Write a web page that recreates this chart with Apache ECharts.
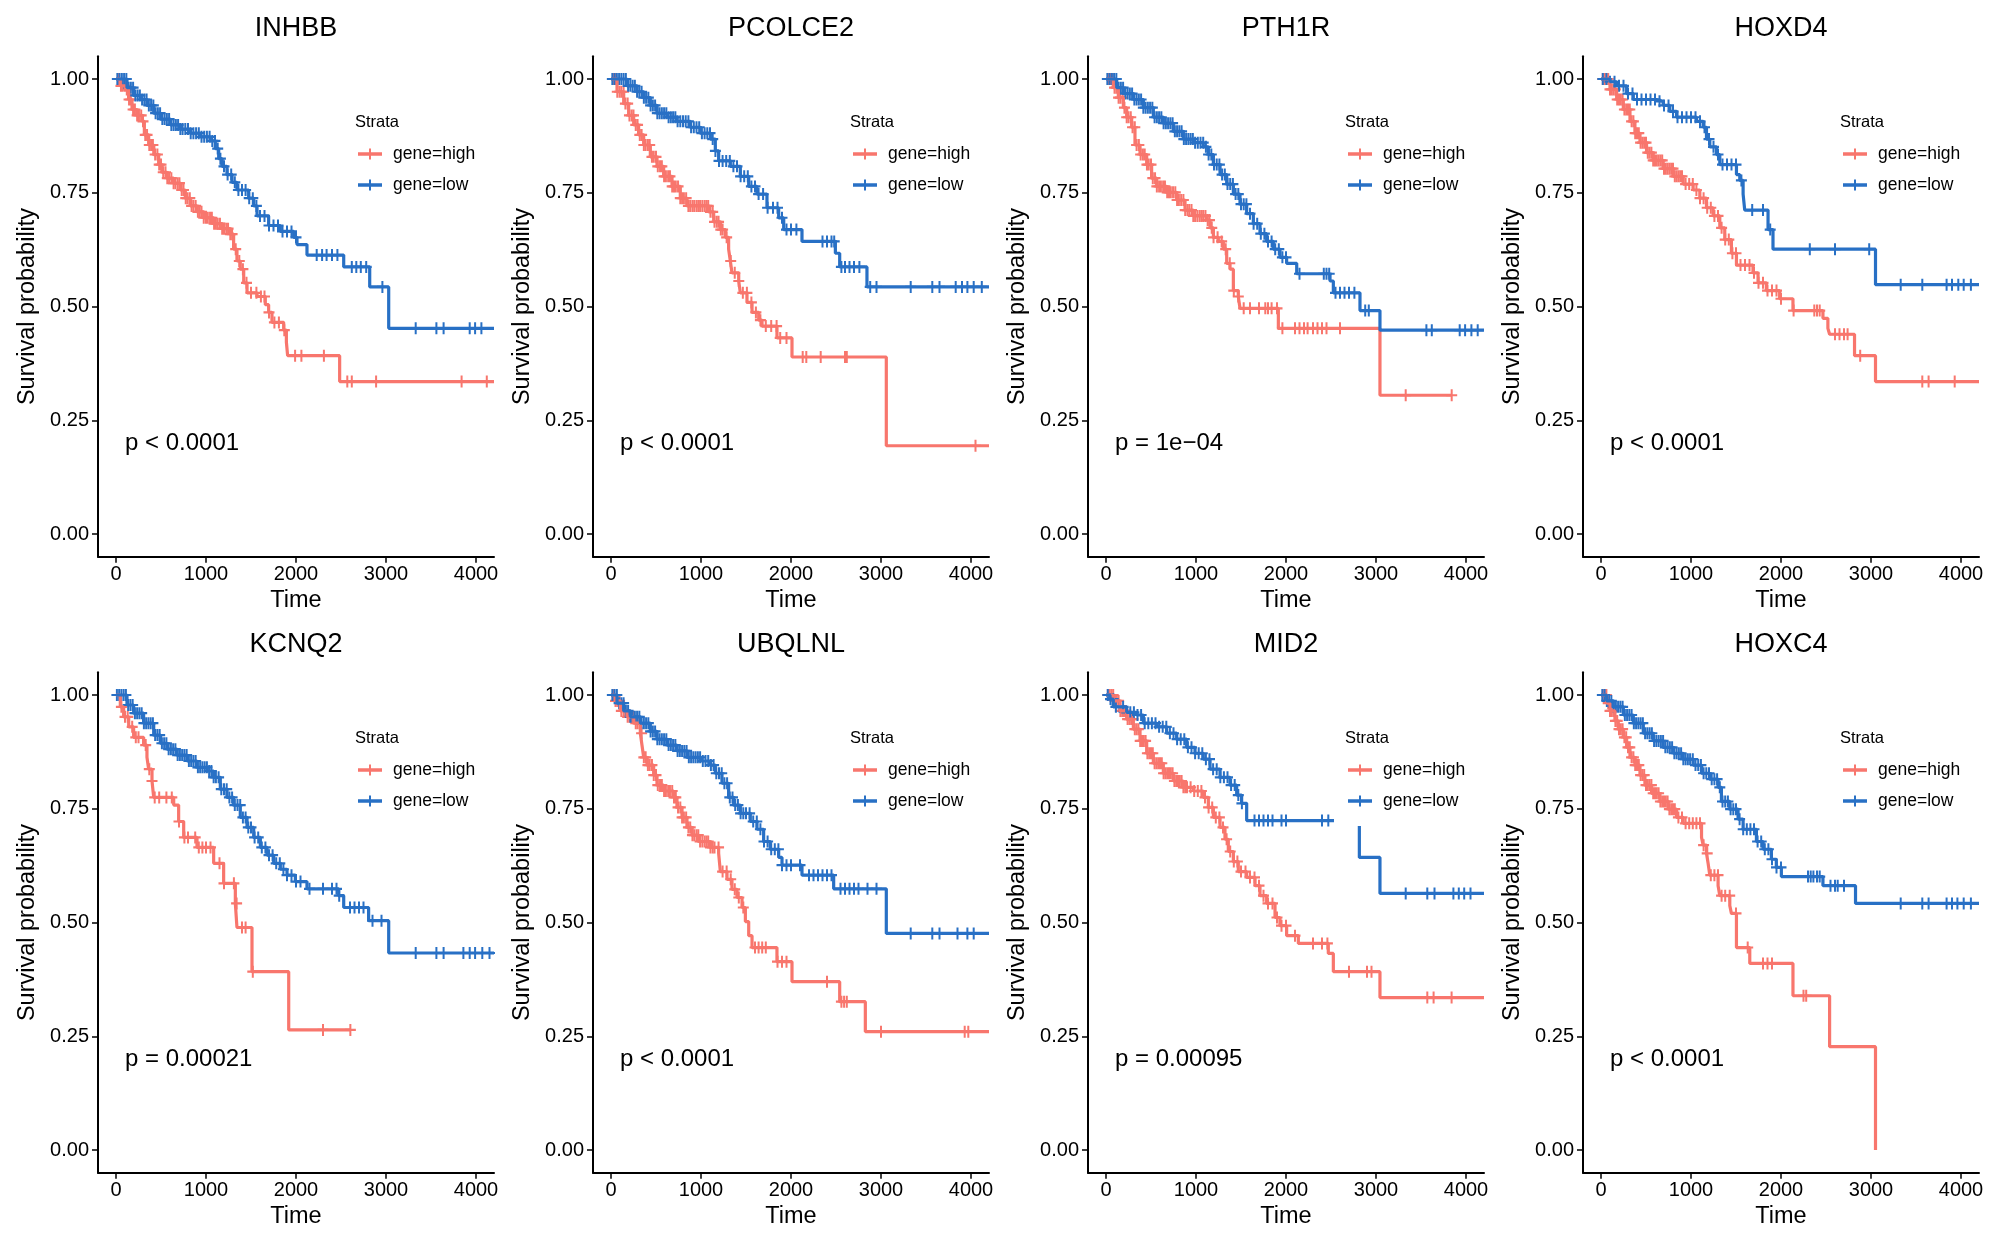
<!DOCTYPE html>
<html>
<head>
<meta charset="utf-8">
<script src="https://cdn.jsdelivr.net/npm/echarts@6/dist/echarts.min.js"></script>
<style>
html,body{margin:0;padding:0;background:#ffffff;}
#chart{width:2000px;height:1250px;}
</style>
</head>
<body>
<div id="chart"></div>
<script>
// ---------- tick labels ----------
const xTicks = [0, 1000, 2000, 3000, 4000];
const yTicks = [0, 0.25, 0.5, 0.75, 1.0];
const genes = ['INHBB', 'PCOLCE2', 'PTH1R', 'HOXD4', 'KCNQ2', 'UBQLNL', 'MID2', 'HOXC4'];
const pValues = ['p < 0.0001', 'p < 0.0001', 'p = 1e\u221204', 'p < 0.0001', 'p = 0.00021', 'p < 0.0001', 'p = 0.00095', 'p < 0.0001'];
const strata = ['gene=high', 'gene=low'];

// ---------- Kaplan-Meier step points [time, survival] ----------
const inhbbHigh = [[0,1],[48,0.985],[104,0.977],[140,0.955],[178,0.933],[233,0.92],[290,0.907],[315,0.877],[363,0.855],[420,0.834],[474,0.812],[511,0.795],[567,0.782],[640,0.771],[715,0.756],[770,0.738],[826,0.721],[900,0.708],[974,0.695],[1085,0.682],[1178,0.671],[1270,0.659],[1307,0.626],[1344,0.60],[1381,0.582],[1419,0.552],[1456,0.53],[1567,0.522],[1659,0.504],[1696,0.487],[1733,0.465],[1863,0.448],[1893,0.422],[1907,0.392],[2485,0.335],[4200,0.335]];
const inhbbLow = [[0,1],[122,0.981],[196,0.964],[270,0.955],[344,0.942],[419,0.925],[493,0.912],[604,0.899],[715,0.89],[826,0.881],[937,0.873],[1048,0.864],[1104,0.847],[1141,0.825],[1178,0.808],[1233,0.79],[1289,0.773],[1344,0.756],[1474,0.738],[1530,0.721],[1567,0.699],[1696,0.678],[1826,0.665],[1974,0.652],[2011,0.636],[2122,0.613],[2530,0.587],[2819,0.543],[3030,0.452],[4200,0.452]];
const pcolHigh = [[0,1],[67,0.972],[141,0.946],[196,0.92],[252,0.899],[307,0.877],[363,0.855],[437,0.829],[511,0.808],[585,0.786],[678,0.764],[770,0.738],[844,0.721],[1085,0.708],[1141,0.686],[1215,0.669],[1270,0.652],[1307,0.626],[1326,0.6],[1344,0.574],[1419,0.556],[1437,0.53],[1511,0.509],[1567,0.487],[1641,0.47],[1678,0.457],[1844,0.431],[2011,0.389],[3059,0.194],[4200,0.194]];
const pcolLow = [[0,1],[178,0.985],[289,0.972],[363,0.959],[437,0.942],[511,0.925],[622,0.916],[733,0.907],[881,0.894],[993,0.881],[1104,0.868],[1159,0.842],[1196,0.82],[1326,0.808],[1437,0.786],[1530,0.764],[1622,0.747],[1733,0.717],[1863,0.695],[1919,0.669],[2122,0.643],[2493,0.617],[2541,0.587],[2844,0.543],[4200,0.543]];
const pthHigh = [[0,1],[81,0.981],[137,0.959],[193,0.937],[230,0.916],[285,0.894],[322,0.855],[378,0.834],[452,0.812],[507,0.782],[563,0.764],[674,0.751],[785,0.734],[878,0.712],[970,0.699],[1119,0.69],[1156,0.673],[1193,0.652],[1248,0.643],[1304,0.626],[1341,0.595],[1378,0.582],[1415,0.535],[1470,0.522],[1489,0.496],[1915,0.452],[3044,0.305],[3841,0.305]];
const pthLow = [[0,1],[119,0.981],[193,0.968],[304,0.955],[415,0.937],[526,0.916],[637,0.903],[748,0.885],[859,0.868],[970,0.86],[1081,0.851],[1137,0.834],[1193,0.812],[1267,0.79],[1341,0.769],[1415,0.747],[1489,0.725],[1563,0.704],[1637,0.682],[1711,0.66],[1785,0.643],[1859,0.626],[1933,0.608],[2007,0.595],[2119,0.572],[2489,0.556],[2526,0.53],[2822,0.491],[3044,0.448],[4200,0.448]];
const hoxdHigh = [[0,1],[100,0.977],[174,0.955],[248,0.933],[322,0.907],[377,0.881],[433,0.86],[506,0.838],[580,0.821],[691,0.803],[802,0.786],[913,0.769],[1024,0.756],[1098,0.738],[1172,0.717],[1246,0.699],[1320,0.673],[1375,0.647],[1449,0.617],[1505,0.591],[1689,0.574],[1745,0.552],[1837,0.535],[1985,0.517],[2133,0.491],[2466,0.474],[2521,0.452],[2540,0.439],[2817,0.392],[3050,0.335],[4200,0.335]];
const hoxdLow = [[0,1],[100,0.994],[174,0.985],[285,0.968],[359,0.955],[617,0.951],[691,0.942],[765,0.929],[839,0.916],[1061,0.907],[1135,0.894],[1172,0.868],[1209,0.851],[1283,0.834],[1320,0.812],[1505,0.79],[1542,0.777],[1579,0.747],[1597,0.712],[1856,0.669],[1911,0.626],[3050,0.548],[4200,0.548]];
const kcnHigh = [[0,1],[48,0.974],[85,0.952],[141,0.93],[196,0.907],[307,0.89],[344,0.863],[363,0.837],[400,0.811],[419,0.775],[641,0.758],[696,0.722],[752,0.687],[900,0.665],[1085,0.63],[1196,0.586],[1326,0.542],[1344,0.489],[1511,0.392],[1919,0.264],[2604,0.264]];
const kcnLow = [[0,1],[122,0.978],[196,0.96],[307,0.938],[419,0.912],[493,0.894],[567,0.881],[678,0.868],[789,0.855],[900,0.841],[1011,0.833],[1085,0.819],[1159,0.793],[1233,0.775],[1307,0.758],[1381,0.731],[1456,0.709],[1530,0.687],[1604,0.665],[1678,0.648],[1752,0.63],[1826,0.617],[1900,0.604],[1993,0.59],[2122,0.574],[2474,0.559],[2530,0.533],[2807,0.504],[3030,0.433],[4200,0.433]];
const ubqHigh = [[0,1],[48,0.987],[104,0.965],[178,0.952],[252,0.938],[326,0.916],[344,0.89],[363,0.863],[400,0.846],[474,0.824],[511,0.802],[585,0.789],[696,0.775],[733,0.753],[789,0.731],[844,0.709],[900,0.692],[974,0.678],[1104,0.665],[1196,0.652],[1215,0.612],[1289,0.595],[1344,0.573],[1400,0.555],[1456,0.533],[1493,0.502],[1530,0.471],[1567,0.445],[1844,0.414],[2011,0.37],[2541,0.326],[2826,0.26],[4200,0.26]];
const ubqLow = [[0,1],[67,0.982],[141,0.965],[215,0.952],[326,0.938],[437,0.92],[511,0.903],[622,0.89],[733,0.877],[844,0.863],[993,0.855],[1104,0.846],[1159,0.828],[1233,0.806],[1307,0.775],[1363,0.758],[1437,0.74],[1548,0.722],[1622,0.705],[1696,0.678],[1770,0.661],[1863,0.643],[1900,0.626],[2122,0.604],[2474,0.574],[3059,0.476],[4200,0.476]];
const midHigh = [[0,1],[81,0.987],[156,0.965],[230,0.947],[304,0.925],[378,0.899],[452,0.872],[526,0.85],[637,0.828],[748,0.811],[859,0.797],[970,0.789],[1081,0.775],[1137,0.753],[1193,0.731],[1267,0.709],[1322,0.683],[1359,0.656],[1415,0.634],[1470,0.612],[1563,0.599],[1656,0.581],[1711,0.559],[1785,0.542],[1878,0.511],[1933,0.493],[2007,0.471],[2137,0.454],[2470,0.432],[2526,0.392],[3044,0.335],[4200,0.335]];
const midLowA = [[0,1],[44,0.991],[81,0.974],[230,0.962],[341,0.956],[415,0.938],[563,0.93],[674,0.916],[785,0.903],[896,0.885],[989,0.872],[1081,0.859],[1156,0.837],[1267,0.819],[1378,0.802],[1452,0.78],[1507,0.762],[1563,0.724],[2533,0.724]];
const midLowB = [[2815,0.712],[2815,0.643],[3044,0.564],[4200,0.564]];
const hoxcHigh = [[0,1],[63,0.982],[100,0.965],[155,0.943],[192,0.925],[248,0.907],[285,0.885],[322,0.863],[377,0.846],[433,0.824],[488,0.802],[562,0.784],[654,0.766],[747,0.749],[839,0.731],[913,0.718],[1117,0.687],[1135,0.67],[1172,0.652],[1190,0.63],[1209,0.604],[1301,0.581],[1320,0.559],[1431,0.537],[1449,0.52],[1505,0.445],[1653,0.41],[2133,0.339],[2540,0.227],[3050,0]];
const hoxcLow = [[0,1],[63,0.987],[137,0.974],[248,0.956],[359,0.938],[470,0.916],[580,0.899],[691,0.885],[802,0.872],[913,0.859],[1024,0.846],[1117,0.828],[1209,0.815],[1301,0.797],[1338,0.766],[1431,0.749],[1523,0.727],[1579,0.705],[1727,0.678],[1801,0.661],[1893,0.639],[1948,0.621],[2004,0.601],[2466,0.581],[2828,0.542],[4200,0.542]];

// ---------- censoring times ----------
const inhbbHighCens = [30,55,75,100,120,145,165,190,210,235,255,280,300,325,345,370,390,410,435,460,480,500,525,550,570,590,615,640,660,685,705,730,750,775,795,820,840,860,885,910,930,950,975,1000,1020,1045,1065,1090,1110,1130,1155,1180,1200,1225,1245,1270,1290,1330,1370,1410,1450,1500,1560,1610,1650,1700,1760,1810,1870,1990,2060,2310,2570,2620,2890,3840,4120];
const inhbbLowCens = [15,40,65,90,115,140,165,190,215,240,265,290,315,340,365,390,415,440,465,490,515,540,565,590,615,640,665,690,715,740,770,800,830,860,890,920,950,980,1010,1040,1070,1100,1130,1160,1200,1240,1280,1320,1360,1400,1440,1480,1520,1560,1600,1650,1700,1750,1800,1850,1900,1950,2000,2230,2290,2340,2400,2460,2620,2670,2720,2780,2960,3330,3560,3640,3930,3990,4060];
const pcolHighCens = [25,50,70,95,115,140,160,185,205,230,250,275,295,320,340,365,385,410,430,455,475,500,520,545,565,590,610,635,655,680,700,720,745,770,790,810,835,860,880,905,925,950,970,990,1015,1040,1060,1080,1105,1130,1150,1175,1195,1220,1240,1285,1330,1375,1420,1465,1510,1560,1610,1660,1720,1780,1840,1880,1950,2130,2170,2330,2600,2620,4050];
const pcolLowCens = [15,40,65,90,115,140,165,190,215,240,265,290,315,340,365,390,415,440,465,490,515,540,565,590,615,640,665,690,715,740,770,800,830,860,890,920,950,980,1010,1040,1070,1100,1130,1160,1200,1240,1280,1320,1360,1400,1440,1480,1520,1560,1600,1640,1690,1740,1800,1850,1900,1950,2000,2060,2350,2400,2450,2480,2560,2600,2650,2700,2760,2880,2950,3330,3570,3650,3830,3900,3960,4030,4120];
const pthHighCens = [25,50,70,95,115,140,160,185,205,230,250,275,295,320,340,365,385,410,430,455,475,500,520,545,565,590,610,635,655,680,700,720,745,770,790,810,835,860,880,905,925,950,970,990,1015,1040,1060,1080,1105,1130,1150,1175,1195,1240,1285,1330,1375,1420,1470,1530,1600,1700,1770,1800,1840,1900,1960,2100,2150,2200,2240,2300,2350,2400,2450,2600,3330,3841];
const pthLowCens = [15,40,65,90,115,140,165,190,215,240,265,290,315,340,365,390,415,440,465,490,515,540,565,590,615,640,665,690,715,740,765,790,815,840,865,890,915,940,965,990,1020,1050,1080,1110,1140,1170,1200,1230,1260,1290,1320,1350,1380,1410,1440,1470,1500,1530,1560,1600,1640,1680,1720,1760,1800,1840,1880,1920,1960,2000,2150,2420,2450,2480,2550,2600,2650,2700,2760,2880,2920,3560,3620,3930,3990,4060,4130];
const hoxdHighCens = [20,40,60,80,100,120,140,160,180,200,220,240,260,280,300,320,340,360,380,400,420,440,460,480,500,520,540,560,580,600,620,640,660,680,700,720,740,760,780,800,820,840,860,880,900,940,980,1020,1060,1100,1140,1180,1220,1260,1300,1340,1380,1420,1460,1500,1550,1600,1650,1700,1750,1800,1850,1900,1950,2000,2140,2370,2400,2430,2600,2650,2700,2740,2880,3570,3640,3930];
const hoxdLowCens = [20,60,100,150,200,250,300,350,400,450,500,550,600,650,700,750,800,850,900,950,1000,1050,1100,1150,1200,1250,1300,1350,1400,1450,1500,1560,1680,1800,1880,2320,2600,2980,3330,3570,3840,3900,3970,4030,4110];
const kcnHighCens = [60,100,130,180,220,250,330,370,400,430,480,560,620,700,760,800,880,920,960,1000,1050,1150,1200,1310,1340,1400,1440,1520,2300,2604];
const kcnLowCens = [10,35,60,85,110,135,160,185,210,235,260,285,310,335,360,385,410,435,460,485,510,535,560,585,610,635,660,685,710,735,760,785,810,835,860,885,910,935,960,985,1010,1035,1060,1085,1110,1140,1170,1200,1230,1260,1290,1320,1350,1380,1410,1440,1470,1500,1540,1580,1620,1660,1700,1740,1780,1820,1860,1900,1950,2000,2050,2150,2300,2400,2450,2480,2600,2650,2700,2750,2850,2950,3330,3560,3640,3860,3930,3990,4070,4150];
const ubqHighCens = [25,50,70,95,115,140,160,185,205,230,250,275,295,320,340,365,385,410,430,455,475,500,520,545,565,590,610,635,655,680,700,720,745,770,790,810,835,860,880,905,925,950,970,990,1015,1040,1060,1080,1105,1130,1150,1195,1240,1285,1330,1375,1420,1470,1600,1640,1680,1720,1850,1900,1950,2400,2560,2590,2620,3000,3930,3970];
const ubqLowCens = [15,40,65,90,115,140,165,190,215,240,265,290,315,340,365,390,415,440,465,490,515,540,565,590,615,640,665,690,715,740,765,790,815,840,865,890,915,940,965,990,1020,1050,1080,1110,1140,1170,1200,1230,1260,1290,1320,1350,1380,1410,1440,1470,1500,1540,1580,1620,1660,1700,1740,1780,1820,1860,1900,1950,2000,2100,2200,2250,2300,2350,2400,2450,2550,2600,2650,2700,2750,2850,2950,3330,3570,3650,3850,3960,4030];
const midHighCens = [20,40,60,80,100,120,140,160,180,200,220,240,260,280,300,320,340,360,380,400,420,440,460,480,500,520,540,560,580,600,620,640,660,680,700,720,740,760,780,800,820,840,860,880,900,940,980,1020,1060,1100,1140,1180,1220,1260,1300,1340,1380,1420,1460,1500,1550,1600,1650,1700,1750,1800,1850,1900,1950,2000,2100,2300,2400,2460,2700,2900,2950,3570,3640,3840];
const midLowCens = [20,50,80,110,150,190,230,270,310,350,390,430,470,510,550,590,630,670,710,750,790,830,870,910,950,990,1030,1070,1110,1150,1190,1230,1270,1310,1350,1390,1430,1470,1510,1650,1700,1750,1800,1850,1950,2000,2400,2470,3330,3570,3650,3860,3920,3980,4050];
const hoxcHighCens = [20,40,60,80,100,120,140,160,180,200,220,240,260,280,300,320,340,360,380,400,420,440,460,480,500,520,540,560,580,600,620,640,660,680,700,720,740,760,780,800,820,860,900,940,980,1020,1060,1100,1140,1180,1220,1260,1300,1340,1380,1430,1500,1630,1800,1850,1900,2250,2280];
const hoxcLowCens = [15,40,65,90,115,140,165,190,215,240,265,290,315,340,365,390,415,440,465,490,515,540,565,590,615,640,665,690,715,740,765,790,815,840,865,890,915,940,965,990,1020,1050,1080,1110,1140,1170,1200,1230,1260,1290,1320,1350,1380,1410,1440,1470,1500,1540,1580,1620,1660,1700,1740,1780,1820,1860,1900,1950,2000,2300,2330,2360,2400,2430,2550,2600,2630,2700,3330,3570,3640,3840,3900,3960,4030,4110];

const panels = [
  {high:[inhbbHigh], low:[inhbbLow], highCens:inhbbHighCens, lowCens:inhbbLowCens},
  {high:[pcolHigh], low:[pcolLow], highCens:pcolHighCens, lowCens:pcolLowCens},
  {high:[pthHigh], low:[pthLow], highCens:pthHighCens, lowCens:pthLowCens},
  {high:[hoxdHigh], low:[hoxdLow], highCens:hoxdHighCens, lowCens:hoxdLowCens},
  {high:[kcnHigh], low:[kcnLow], highCens:kcnHighCens, lowCens:kcnLowCens},
  {high:[ubqHigh], low:[ubqLow], highCens:ubqHighCens, lowCens:ubqLowCens},
  {high:[midHigh], low:[midLowA, midLowB], highCens:midHighCens, lowCens:midLowCens},
  {high:[hoxcHigh], low:[hoxcLow], highCens:hoxcHighCens, lowCens:hoxcLowCens}
];

// ---------- styling ----------
const RED = '#F8766D';
const BLUE = '#2870C5';
const FONT = 'Liberation Sans, Arial, Helvetica, sans-serif';
const PLUS = 'path://M4.5,0H6.5V4.5H11V6.5H6.5V11H4.5V6.5H0V4.5H4.5Z';
const LEGEND_ICON = 'path://M0,3.75H11V0H13V3.75H24V7.25H13V11H11V7.25H0Z';
const GRID_LEFT0 = 98, COL_STEP = 495, GRID_W = 396;
const GRID_TOP0 = 56.25, ROW_STEP = 616, GRID_H = 500.5;

function survAt(segments, t) {
  for (const seg of segments) {
    if (t < seg[0][0] || t > seg[seg.length - 1][0]) continue;
    let s = seg[0][1];
    for (const p of seg) { if (p[0] <= t) s = p[1]; else break; }
    return s;
  }
  return null;
}

const grids = [], xAxes = [], yAxes = [], titles = [], legends = [], series = [];
panels.forEach((pn, i) => {
  const r = Math.floor(i / 4), c = i % 4;
  const left = GRID_LEFT0 + COL_STEP * c;
  const top = GRID_TOP0 + ROW_STEP * r;
  grids.push({left: left, top: top, width: GRID_W, height: GRID_H, containLabel: false});
  xAxes.push({
    type: 'value', gridIndex: i, min: -200, max: 4200,
    name: 'Time', nameLocation: 'middle', nameGap: 32,
    nameTextStyle: {fontSize: 23.5, color: '#000', fontFamily: FONT},
    axisLine: {show: true, onZero: false, lineStyle: {color: '#000', width: 2}},
    axisTick: {show: true, length: 6, customValues: xTicks, lineStyle: {color: '#000', width: 1.5}},
    axisLabel: {customValues: xTicks, fontSize: 20, color: '#000', margin: 8, fontFamily: FONT,
      formatter: v => String(Math.round(v))},
    splitLine: {show: false}
  });
  yAxes.push({
    type: 'value', gridIndex: i, min: -0.05, max: 1.05,
    name: 'Survival probability', nameLocation: 'middle', nameGap: 58, nameRotate: 90,
    nameTextStyle: {fontSize: 23.5, color: '#000', fontFamily: FONT},
    axisLine: {show: true, onZero: false, lineStyle: {color: '#000', width: 2}},
    axisTick: {show: true, length: 6, customValues: yTicks, lineStyle: {color: '#000', width: 1.5}},
    axisLabel: {customValues: yTicks, fontSize: 20, color: '#000', margin: 9, fontFamily: FONT,
      formatter: v => Number(v).toFixed(2)},
    splitLine: {show: false}
  });
  titles.push({
    text: genes[i], left: left + GRID_W / 2, top: 15 + ROW_STEP * r, textAlign: 'center', padding: 0,
    textStyle: {fontSize: 27, fontWeight: 'normal', color: '#000', fontFamily: FONT}
  });
  titles.push({
    text: 'Strata', left: left + 257, top: 114 + ROW_STEP * r, padding: 0,
    textStyle: {fontSize: 16.5, fontWeight: 'normal', color: '#000', fontFamily: FONT}
  });
  legends.push({
    data: strata, orient: 'vertical', left: left + 260, top: 145 + ROW_STEP * r,
    itemWidth: 24, itemHeight: 11, itemGap: 13, icon: LEGEND_ICON, padding: 0,
    selectedMode: false,
    textStyle: {fontSize: 17.5, color: '#000', fontFamily: FONT, padding: [0, 0, 0, 6]}
  });
  const groups = [
    {name: strata[0], color: RED, segs: pn.high, cens: pn.highCens},
    {name: strata[1], color: BLUE, segs: pn.low, cens: pn.lowCens}
  ];
  groups.forEach(g => {
    g.segs.forEach(seg => {
      series.push({
        type: 'line', name: g.name, xAxisIndex: i, yAxisIndex: i, data: seg,
        step: 'end', symbol: 'none', silent: true, animation: false,
        lineStyle: {color: g.color, width: 3.2}, itemStyle: {color: g.color}
      });
    });
    const pts = g.cens.map(t => [t, survAt(g.segs, t)]).filter(p => p[1] !== null);
    series.push({
      type: 'scatter', name: g.name, xAxisIndex: i, yAxisIndex: i, data: pts,
      symbol: PLUS, symbolSize: [11, 12], silent: true, animation: false,
      itemStyle: {color: g.color, opacity: 1}
    });
  });
  series.push({
    type: 'scatter', xAxisIndex: i, yAxisIndex: i, data: [[100, 0.2]],
    symbolSize: 0, silent: true, animation: false,
    itemStyle: {opacity: 1, color: '#000'},
    label: {show: true, position: [0, 0], align: 'left', verticalAlign: 'middle',
      formatter: pValues[i], fontSize: 24, color: '#000', opacity: 1, fontFamily: FONT}
  });
});

const chart = echarts.init(document.getElementById('chart'), null, {renderer: 'canvas'});
chart.setOption({
  backgroundColor: '#ffffff',
  animation: false,
  textStyle: {fontFamily: FONT},
  title: titles,
  legend: legends,
  grid: grids,
  xAxis: xAxes,
  yAxis: yAxes,
  series: series
});
</script>
</body>
</html>
